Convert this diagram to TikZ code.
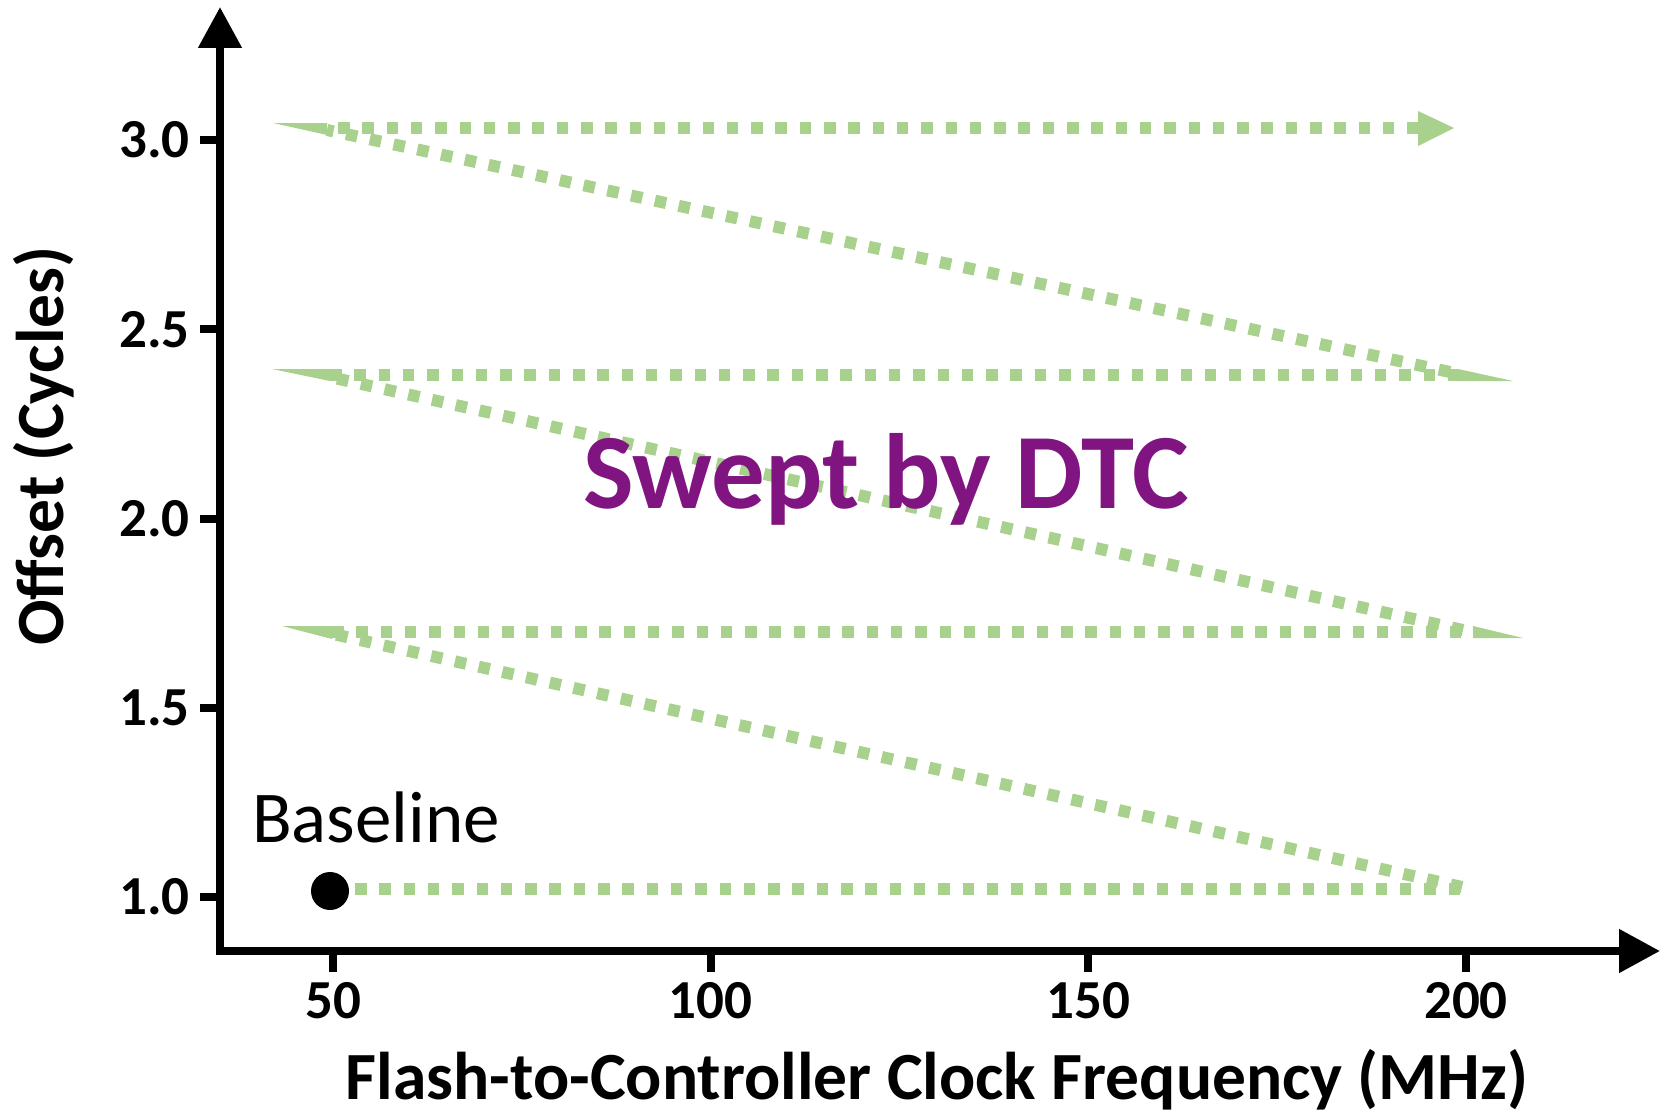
\documentclass[tikz,border=0pt]{standalone}
\usepackage{fontspec}
\setmainfont{Carlito}
\usetikzlibrary{arrows.meta}
\definecolor{sweepgreen}{HTML}{A9D18E}
\definecolor{dtcpurple}{RGB}{128,20,128}
\begin{document}
\begin{tikzpicture}[x=1pt,y=-1pt,
  axisline/.style={line width=8pt,-{Triangle[length=41pt,width=42pt]}},
  tickmark/.style={line width=8pt},
  sweep/.style={sweepgreen,line width=12pt,dash pattern=on 11.5pt off 12.8pt},
  ticklab/.style={font=\fontsize{55}{55}\selectfont\bfseries,inner sep=0pt},
  axtitle/.style={font=\fontsize{67.5}{67.5}\selectfont\bfseries,inner sep=0pt}]
\useasboundingbox (0,0) rectangle (1666,1116);
% axes
\coordinate (corner) at (220,951);
\coordinate (ytop) at (220,7);
\coordinate (xend) at (1660,951);
\coordinate (ybot) at (220,955);
\coordinate (xbeg) at (216,951);
\draw[axisline] (ybot) -- (ytop);
\draw[axisline] (xbeg) -- (xend);
% y ticks
\foreach \v/\yy in {3.0/140,2.5/329.25,2.0/518.5,1.5/707.75,1.0/897}{
  \draw[tickmark] (200,\yy) -- (220,\yy);
  \node[ticklab,anchor=east] (yl\v) at (190,\yy) {\v};
}
% x ticks
\foreach \v/\xx in {50/333,100/710.7,150/1088.3,200/1466}{
  \draw[tickmark] (\xx,951) -- (\xx,972);
  \node[ticklab] (xl\v) at (\xx,1001) {\v};
}
% sweep path
\coordinate (b0) at (355,889);
\coordinate (b1) at (1462,889);
\coordinate (d1s) at (1462,887);
\coordinate (d1e) at (333,634);
\coordinate (h2s) at (332,632);
\coordinate (h2e) at (1473,632);
\coordinate (d2s) at (1463,630);
\coordinate (d2e) at (330,377);
\coordinate (h3s) at (330,375);
\coordinate (h3e) at (1458,375);
\coordinate (d3s) at (1450,372);
\coordinate (d3e) at (327,130);
\coordinate (h4s) at (338,128);
\coordinate (h4e) at (1418,128);
\draw[sweep] (b0) -- (b1);
\draw[sweep] (d1s) -- (d1e);
\draw[sweep] (h2s) -- (h2e);
\draw[sweep] (d2s) -- (d2e);
\draw[sweep] (h3s) -- (h3e);
\draw[sweep] (d3s) -- (d3e);
\draw[sweep] (h4s) -- (h4e);
% arrowhead and wedges
\fill[sweepgreen] (1418,111) -- (1454,128) -- (1418,146) -- cycle;
\fill[sweepgreen] (273,123) -- (327,123) -- (327,135) -- cycle;
\fill[sweepgreen] (272,369) -- (330,369) -- (330,381) -- cycle;
\fill[sweepgreen] (282,626) -- (332,626) -- (332,639) -- cycle;
\fill[sweepgreen] (1458,369) -- (1513,381) -- (1458,381) -- cycle;
\fill[sweepgreen] (1473,626) -- (1523,638) -- (1473,638) -- cycle;
% baseline dot and labels
\node[circle,fill=black,minimum size=38pt,inner sep=0pt] (base) at (330,891) {};
\node[anchor=base west,inner sep=0pt,font=\fontsize{73}{73}\selectfont] (bl) at (252,842) {Baseline};
\node[anchor=base west,inner sep=0pt,font=\fontsize{107}{107}\selectfont\bfseries,text=dtcpurple] (swept) at (583,508) {Swept by DTC};
% axis titles
\node[axtitle,anchor=base] (xt) at (937,1099) {Flash-to-Controller Clock Frequency (MHz)};
\node[axtitle,anchor=base,rotate=90] (yt) at (63,446) {Offset (Cycles)};
\end{tikzpicture}
\end{document}
